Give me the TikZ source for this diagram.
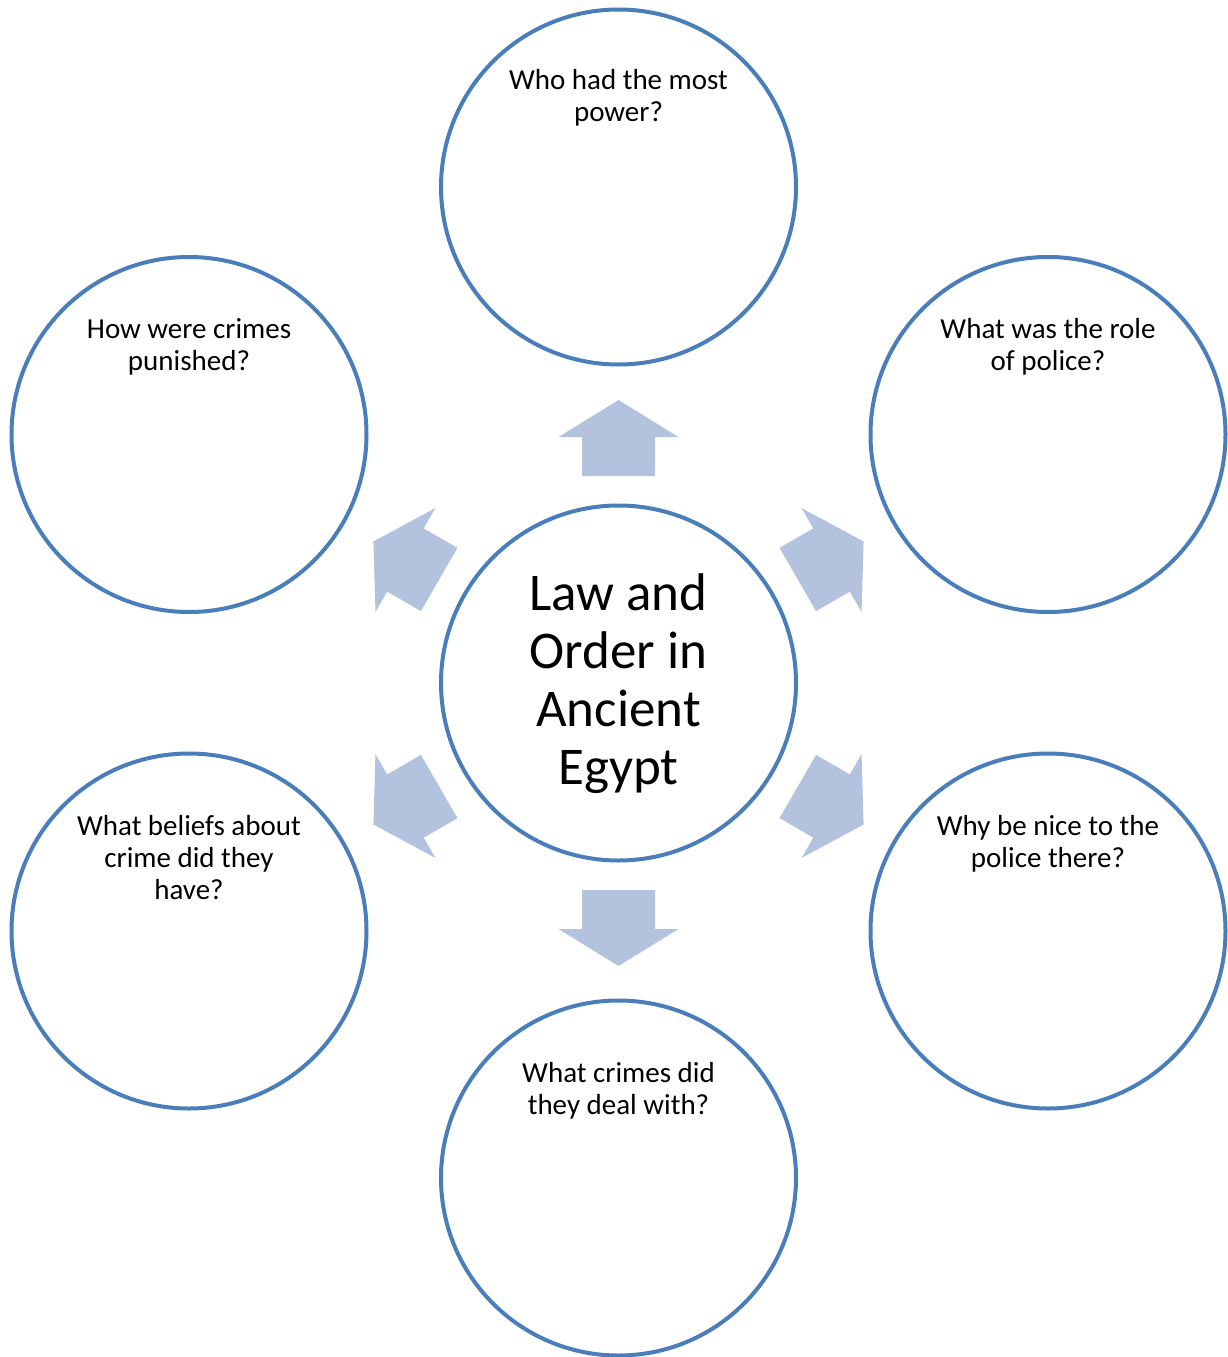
\documentclass[tikz,border=0pt]{standalone}
\usepackage{fontspec}
\setmainfont{Carlito}
\definecolor{ringblue}{HTML}{4A7EBB}
\definecolor{arrowblue}{HTML}{B3C3DE}
\begin{document}
\begin{tikzpicture}[x=1pt,y=-1pt,
  ring/.style={circle,draw=ringblue,line width=4pt,fill=white,minimum size=355pt,inner sep=0pt},
  qtext/.style={anchor=north,inner sep=0pt,align=center,font=\fontsize{29}{32}\selectfont},
  blockarrow/.style={fill=arrowblue,draw=none}]
\useasboundingbox (0,0) rectangle (1228,1357);
\fill[white] (0,0) rectangle (1228,1357);
% circles
\node[ring] (ctr) at (618.5,683) {};
\node[ring] (top) at (618.5,187) {};
\node[ring] (ul) at (189,434.5) {};
\node[ring] (ur) at (1048,434.5) {};
\node[ring] (ll) at (189,931) {};
\node[ring] (lr) at (1048,931) {};
\node[ring] (bot) at (618.5,1178) {};
% arrows
\foreach \ang in {90,30,-30,-90,-150,150}{
  \begin{scope}[shift={(ctr.center)},rotate=\ang]
    \fill[blockarrow] (207,-36.5) -- (246,-36.5) -- (246,-60) -- (283,0) -- (246,60) -- (246,36.5) -- (207,36.5) -- cycle;
  \end{scope}
}
% texts
\node[align=center,inner sep=0pt,font=\fontsize{53}{58}\selectfont] (ctrtext) at (618.5,684) {Law and\\Order in\\Ancient\\Egypt};
\node[qtext] (toptext) at (618.5,69) {Who had the most\\power?};
\node[qtext] (ultext) at (189,318) {How were crimes\\punished?};
\node[qtext] (urtext) at (1048,318) {What was the role\\of police?};
\node[qtext] (lltext) at (189,815) {What beliefs about\\crime did they\\have?};
\node[qtext] (lrtext) at (1048,815) {Why be nice to the\\police there?};
\node[qtext] (bottext) at (618.5,1062) {What crimes did\\they deal with?};
\end{tikzpicture}
\end{document}
